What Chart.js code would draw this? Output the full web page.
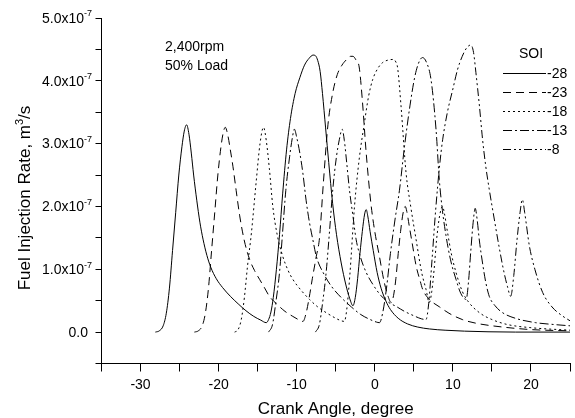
<!DOCTYPE html>
<html><head><meta charset="utf-8">
<script src="https://cdn.jsdelivr.net/npm/chart.js@4.4.0/dist/chart.umd.min.js"></script>
<style>html,body{margin:0;padding:0;background:#fff;}#wrap{width:575px;height:418px;}</style>
</head><body><div id="wrap"><canvas id="c" width="575" height="418"></canvas></div>
<script>
// Fuel injection rate, in units of 1e-7 m^3/s, vs crank angle (degree)
const soiLabels = ['-28', '-23', '-18', '-13', '-8'];
const soi28 = [[-28.1,0],[-27.6,0.02],[-27.1,0.1],[-26.7,0.3],[-26.3,0.7],[-25.9,1.3],[-25.5,1.9],[-25.1,2.5],[-24.7,2.95],[-24.4,3.2],[-24.1,3.3],[-23.8,3.15],[-23.5,2.85],[-23.2,2.5],[-22.8,2.1],[-22.4,1.75],[-22.0,1.48],[-21.5,1.22],[-21.0,1.03],[-20.3,0.85],[-19.5,0.71],[-18.5,0.57],[-17.5,0.45],[-16.5,0.34],[-15.5,0.25],[-14.6,0.19],[-13.9,0.15],[-13.6,0.2],[-13.3,0.32],[-13.0,0.55],[-12.6,1.0],[-12.2,1.55],[-11.8,2.2],[-11.3,2.9],[-10.8,3.4],[-10.2,3.8],[-9.6,4.05],[-9.0,4.25],[-8.4,4.36],[-7.9,4.41],[-7.6,4.4],[-7.3,4.32],[-7.0,4.15],[-6.7,3.8],[-6.3,3.25],[-5.9,2.7],[-5.4,2.05],[-4.9,1.55],[-4.3,1.1],[-3.7,0.75],[-3.2,0.53],[-2.8,0.42],[-2.5,0.55],[-2.2,0.85],[-1.9,1.25],[-1.6,1.6],[-1.3,1.88],[-1.1,1.95],[-0.9,1.85],[-0.6,1.6],[-0.2,1.3],[0.3,0.95],[0.8,0.7],[1.4,0.5],[2.0,0.36],[3.0,0.22],[4.2,0.13],[5.5,0.08],[7.0,0.05],[9.0,0.03],[11.5,0.015],[14.5,0.005],[18,0],[25,0]];
const soi23 = [[-23.1,0],[-22.6,0.02],[-22.1,0.1],[-21.7,0.3],[-21.3,0.7],[-20.9,1.3],[-20.5,1.9],[-20.1,2.5],[-19.7,2.95],[-19.4,3.18],[-19.15,3.26],[-18.85,3.15],[-18.5,2.9],[-18.17,2.64],[-17.75,2.25],[-17.3,1.85],[-16.7,1.45],[-16.04,1.16],[-15.4,0.98],[-14.76,0.84],[-14.1,0.7],[-13.5,0.57],[-12.5,0.44],[-11.5,0.33],[-10.5,0.25],[-9.8,0.2],[-9.2,0.17],[-8.8,0.3],[-8.4,0.55],[-8.0,0.85],[-7.5,1.2],[-7.08,1.5],[-6.6,2.35],[-6.0,3.3],[-5.4,3.8],[-4.8,4.1],[-4.2,4.25],[-3.6,4.34],[-3.1,4.39],[-2.8,4.39],[-2.4,4.33],[-2.0,4.22],[-1.6,3.7],[-1.1,2.85],[-0.5,2.05],[0.0,1.6],[0.6,1.2],[1.2,0.8],[1.7,0.57],[2.1,0.47],[2.4,0.58],[2.7,0.85],[3.0,1.25],[3.3,1.6],[3.6,1.88],[3.9,2.0],[4.1,1.92],[4.4,1.7],[4.85,1.37],[5.3,1.05],[5.8,0.82],[6.13,0.68],[7.0,0.52],[8.3,0.4],[9.5,0.3],[11.2,0.2],[13.0,0.14],[16.4,0.08],[20,0.04],[25,0.02]];
const soi18 = [[-17.95,0],[-17.5,0.04],[-17.1,0.2],[-16.7,0.55],[-16.3,1.05],[-15.8,1.58],[-15.2,2.38],[-14.7,3.0],[-14.25,3.26],[-13.9,3.05],[-13.5,2.6],[-13.06,2.0],[-12.5,1.55],[-11.8,1.21],[-11.1,0.98],[-10.5,0.84],[-9.4,0.66],[-8.36,0.52],[-7.3,0.4],[-6.23,0.31],[-5.0,0.22],[-4.3,0.18],[-3.9,0.17],[-3.6,0.35],[-3.2,0.9],[-2.6,2.0],[-2.0,2.75],[-1.33,3.33],[-0.8,3.75],[-0.27,4.02],[0.4,4.2],[1.0,4.29],[1.7,4.33],[2.3,4.34],[2.7,4.3],[2.93,4.2],[3.36,3.6],[4.0,2.54],[4.6,2.0],[5.28,1.48],[6.0,0.95],[6.56,0.68],[6.98,0.47],[7.3,0.65],[7.6,1.0],[7.9,1.45],[8.3,1.85],[8.68,2.0],[8.9,1.9],[9.3,1.6],[9.8,1.25],[10.4,0.95],[11.2,0.65],[12,0.48],[13.5,0.3],[15,0.2],[17,0.12],[20,0.07],[25,0.03]];
const soi13 = [[-13.6,0],[-13.1,0.12],[-12.7,0.45],[-12.2,0.95],[-11.8,1.6],[-11.4,2.25],[-10.9,2.8],[-10.55,3.1],[-10.3,3.23],[-10.0,3.1],[-9.6,2.85],[-9.22,2.54],[-8.8,2.1],[-8.36,1.74],[-7.9,1.45],[-7.5,1.21],[-6.5,0.92],[-5.5,0.72],[-4.3,0.55],[-3.0,0.4],[-1.8,0.28],[-0.6,0.2],[0.2,0.16],[0.6,0.15],[1.0,0.3],[1.5,0.7],[2.0,1.25],[2.6,1.8],[3.15,2.25],[3.8,2.95],[4.5,3.6],[5.1,4.05],[5.6,4.28],[6.1,4.37],[6.6,4.3],[7.2,4.02],[7.84,3.23],[8.26,2.43],[8.6,2.0],[9.1,1.55],[9.7,1.15],[10.4,0.84],[11.0,0.62],[11.7,0.52],[12.0,0.8],[12.3,1.3],[12.6,1.75],[12.86,1.97],[13.1,1.8],[13.4,1.45],[13.8,1.1],[14.2,0.8],[14.66,0.57],[15.4,0.42],[16.35,0.31],[18,0.22],[20.6,0.15],[23,0.12],[25,0.1]];
const soi8 = [[-7.6,0],[-7.1,0.12],[-6.7,0.45],[-6.23,0.95],[-5.8,1.6],[-5.38,2.27],[-4.9,2.8],[-4.53,3.07],[-4.18,3.23],[-3.9,3.05],[-3.6,2.7],[-3.25,2.27],[-2.8,1.85],[-2.4,1.48],[-1.8,1.18],[-1.1,0.95],[-0.2,0.75],[0.8,0.58],[1.8,0.47],[2.72,0.41],[3.8,0.33],[5.0,0.26],[6.0,0.21],[6.56,0.2],[6.9,0.45],[7.3,1.1],[7.8,1.95],[8.3,2.65],[8.7,3.07],[9.3,3.5],[10.0,3.87],[10.6,4.18],[11.2,4.39],[11.8,4.53],[12.3,4.57],[12.65,4.45],[12.95,4.13],[13.4,3.6],[13.8,3.07],[14.2,2.65],[14.66,2.27],[15.3,1.8],[15.9,1.37],[16.5,0.98],[17.0,0.72],[17.4,0.57],[17.8,0.9],[18.2,1.45],[18.6,1.9],[18.9,2.11],[19.2,1.9],[19.8,1.37],[20.5,1.0],[21.5,0.63],[22.7,0.4],[24.0,0.26],[25,0.18]];
const yTickValues = [0, 1, 2, 3, 4, 5];        // labelled y ticks (x1e-7)
const xTickLabels = [-30, -20, -10, 0, 10, 20];
const annotationLines = ['2,400rpm', '50% Load'];

const seriesList = [soi28, soi23, soi18, soi13, soi8];
const dashes = [[], [8, 5], [2, 3], [9, 3, 2, 3], [8, 3, 2, 3, 2, 3]];
const FONT = 'Arial, "Liberation Sans", sans-serif';

const datasets = seriesList.map((s, i) => ({
  label: soiLabels[i],
  data: s.map(p => ({x: p[0], y: p[1]})),
  borderColor: '#000',
  borderWidth: 1,
  borderDash: dashes[i],
  pointRadius: 0,
  fill: false,
  cubicInterpolationMode: 'monotone'
}));

const deco = {
  id: 'deco',
  afterDraw(chart) {
    const ctx = chart.ctx, ys = chart.scales.y, ca = chart.chartArea;
    ctx.save();
    ctx.fillStyle = '#000';
    // y tick labels with superscript exponent
    yTickValues.forEach(v => {
      const py = ys.getPixelForValue(v);
      ctx.textBaseline = 'middle';
      ctx.textAlign = 'right';
      if (v === 0) {
        ctx.font = '14px ' + FONT;
        ctx.fillText('0.0', 88, py + 1);
      } else {
        ctx.font = '9px ' + FONT;
        const ew = ctx.measureText('-7').width;
        ctx.fillText('-7', 92, py - 4);
        ctx.font = '14px ' + FONT;
        ctx.fillText(v.toFixed(1) + 'x10', 92 - ew, py + 1);
      }
    });
    // y title (rotated) with superscript 3
    ctx.save();
    ctx.translate(30, 198);
    ctx.rotate(-Math.PI / 2);
    ctx.font = '17px ' + FONT;
    const p1 = 'Fuel Injection Rate, m', p3 = '/s';
    const w1 = ctx.measureText(p1).width, w3 = ctx.measureText(p3).width;
    ctx.font = '11px ' + FONT;
    const w2 = ctx.measureText('3').width;
    const tot = w1 + w2 + w3;
    let sx = -tot / 2;
    ctx.textAlign = 'left';
    ctx.textBaseline = 'alphabetic';
    ctx.font = '17px ' + FONT;
    ctx.fillText(p1, sx, 0);
    ctx.font = '11px ' + FONT;
    ctx.fillText('3', sx + w1, -7);
    ctx.font = '17px ' + FONT;
    ctx.fillText(p3, sx + w1 + w2, 0);
    ctx.restore();
    // x title
    ctx.font = '17px ' + FONT;
    ctx.textAlign = 'center';
    ctx.textBaseline = 'alphabetic';
    ctx.fillText('Crank Angle, degree', (ca.left + ca.right) / 2, 414);
    // annotation
    ctx.font = '14px ' + FONT;
    ctx.textAlign = 'left';
    ctx.fillText(annotationLines[0], 165, 51);
    ctx.fillText(annotationLines[1], 165, 70);
    // legend
    ctx.font = '14px ' + FONT;
    ctx.textAlign = 'center';
    ctx.fillText('SOI', 531, 58);
    chart.data.datasets.forEach((ds, i) => {
      const ly = 73 + 19 * i;
      ctx.save();
      ctx.strokeStyle = '#000';
      ctx.lineWidth = 1;
      ctx.setLineDash(ds.borderDash);
      ctx.beginPath();
      ctx.moveTo(503, ly + 0.5);
      ctx.lineTo(546, ly + 0.5);
      ctx.stroke();
      ctx.restore();
      ctx.textAlign = 'left';
      ctx.textBaseline = 'middle';
      ctx.font = '14px ' + FONT;
      ctx.fillText(ds.label, 547, ly + 1);
    });
    ctx.restore();
  }
};

new Chart(document.getElementById('c'), {
  type: 'line',
  data: {datasets},
  options: {
    responsive: false,
    animation: false,
    devicePixelRatio: 1,
    layout: {padding: {top: 18, right: 3.5, left: 0, bottom: 0}},
    plugins: {legend: {display: false}, tooltip: {enabled: false}},
    scales: {
      x: {
        type: 'linear', min: -35, max: 25,
        ticks: {
          stepSize: 5, autoSkip: false, maxRotation: 0, padding: 5,
          color: '#000', font: {size: 14, family: FONT},
          callback: v => xTickLabels.includes(v) ? String(v) : ''
        },
        grid: {drawOnChartArea: false, drawTicks: true, tickLength: 8, color: '#000'},
        border: {display: true, color: '#000', width: 1},
        afterFit: s => { s.height = 54.5; }
      },
      y: {
        type: 'linear', min: -0.5, max: 5,
        ticks: {stepSize: 0.5, display: false},
        grid: {drawOnChartArea: false, drawTicks: true, tickLength: 6, color: '#000'},
        border: {display: true, color: '#000', width: 1},
        afterFit: s => { s.width = 101.5; }
      }
    }
  },
  plugins: [deco]
});
</script></body></html>
